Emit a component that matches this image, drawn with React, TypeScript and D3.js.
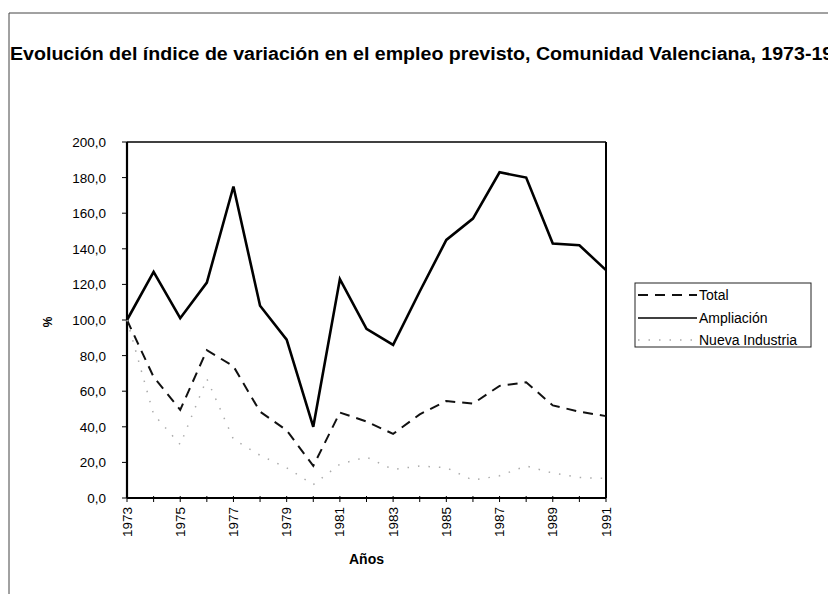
import React from "react";
import * as d3 from "d3";

const years = [1973, 1974, 1975, 1976, 1977, 1978, 1979, 1980, 1981, 1982, 1983, 1984, 1985, 1986, 1987, 1988, 1989, 1990, 1991];
const total = [100, 68, 49.5, 83, 74, 48.5, 38, 18, 48, 43, 36, 47, 54.5, 53, 63, 65, 52, 48.5, 46];
const ampliacion = [100, 127, 101, 121, 175, 108, 89, 40, 123, 95, 86, 116, 145, 157, 183, 180, 143, 142, 128];
const nuevaIndustria = [100, 47, 30, 67, 33, 24, 17, 7.5, 19, 23, 16, 18, 17, 10, 12.5, 18, 14, 11.5, 11];
const yTicks = [0, 20, 40, 60, 80, 100, 120, 140, 160, 180, 200];
const xLabelYears = [1973, 1975, 1977, 1979, 1981, 1983, 1985, 1987, 1989, 1991];
const legendLabels = ["Total", "Ampliación", "Nueva Industria"];
const title = "Evolución del índice de variación en el empleo previsto, Comunidad Valenciana, 1973-1991";

export default function App() {
  const font = "Liberation Sans, Arial, sans-serif";
  const x = d3.scaleLinear().domain([1973, 1991]).range([127, 606]);
  const y = d3.scaleLinear().domain([0, 200]).range([498, 142]);
  const line = d3
    .line<number>()
    .x((_, i) => x(years[i]))
    .y((d) => y(d));
  const fmt = (v: number) => v.toFixed(1).replace(".", ",");

  const styles = [
    { stroke: "#111", width: 2, dash: "10 7" },
    { stroke: "#000", width: 2.6, dash: null },
    { stroke: "#ababab", width: 1.5, dash: "1.5 9" },
  ];
  const series = [total, ampliacion, nuevaIndustria];
  const legendY = [295, 318, 340];

  return (
    <svg
      width={828}
      height={594}
      style={{ position: "absolute", left: 0, top: 0, background: "#fff" }}
      fontFamily={font}
    >
      <rect x={0} y={0} width={828} height={594} fill="#fff" />
      {/* outer frame */}
      <line x1={9} y1={13} x2={828} y2={13} stroke="#444" strokeWidth={1} />
      <line x1={9} y1={13} x2={9} y2={594} stroke="#444" strokeWidth={1} />

      <text x={10} y={60} fontSize={18} fontWeight="bold" textLength={845} lengthAdjust="spacingAndGlyphs" fill="#000">
        {title}
      </text>

      {/* plot frame */}
      <line x1={x(1973)} y1={y(200)} x2={x(1991)} y2={y(200)} stroke="#000" strokeWidth={1.6} />
      <line x1={x(1991)} y1={y(200)} x2={x(1991)} y2={y(0)} stroke="#000" strokeWidth={2} />
      <line x1={x(1973)} y1={y(200)} x2={x(1973)} y2={y(0)} stroke="#000" strokeWidth={2.2} />
      <line x1={x(1973)} y1={y(0)} x2={x(1991)} y2={y(0)} stroke="#000" strokeWidth={2.2} />

      {yTicks.map((t) => (
        <g key={t}>
          <line x1={x(1973) - 5} x2={x(1973)} y1={y(t)} y2={y(t)} stroke="#000" strokeWidth={1} />
          <text x={106} y={y(t) + 5} fontSize={13.5} textAnchor="end" fill="#000">
            {fmt(t)}
          </text>
        </g>
      ))}
      {years.map((yr) => (
        <line key={yr} x1={x(yr)} x2={x(yr)} y1={y(0) - 2} y2={y(0) + 4} stroke="#000" strokeWidth={1} />
      ))}
      {xLabelYears.map((yr) => (
        <text
          key={yr}
          transform={`translate(${x(yr) + 4.5},${y(0) + 9}) rotate(-90)`}
          fontSize={13.5}
          textAnchor="end"
          fill="#000"
        >
          {yr}
        </text>
      ))}

      <text x={(x(1973) + x(1991)) / 2} y={564} fontSize={14} fontWeight="bold" textAnchor="middle" fill="#000">
        Años
      </text>
      <text transform={`translate(52,322) rotate(-90)`} fontSize={12} fontWeight="bold" textAnchor="middle" fill="#000">
        %
      </text>

      {series.map((s, i) => (
        <path
          key={i}
          d={line(s) || ""}
          fill="none"
          stroke={styles[i].stroke}
          strokeWidth={styles[i].width}
          strokeDasharray={styles[i].dash || undefined}
          strokeLinejoin="miter"
        />
      ))}

      {/* legend */}
      <rect x={635} y={283} width={176} height={64} fill="#fff" stroke="#222" strokeWidth={1} />
      {legendLabels.map((lab, i) => (
        <g key={lab}>
          <line
            x1={638}
            x2={697}
            y1={legendY[i]}
            y2={legendY[i]}
            stroke={styles[i].stroke}
            strokeWidth={i === 1 ? 1.3 : styles[i].width}
            strokeDasharray={styles[i].dash || undefined}
          />
          <text x={699} y={legendY[i] + 5} fontSize={14} fill="#000">
            {lab}
          </text>
        </g>
      ))}
    </svg>
  );
}
